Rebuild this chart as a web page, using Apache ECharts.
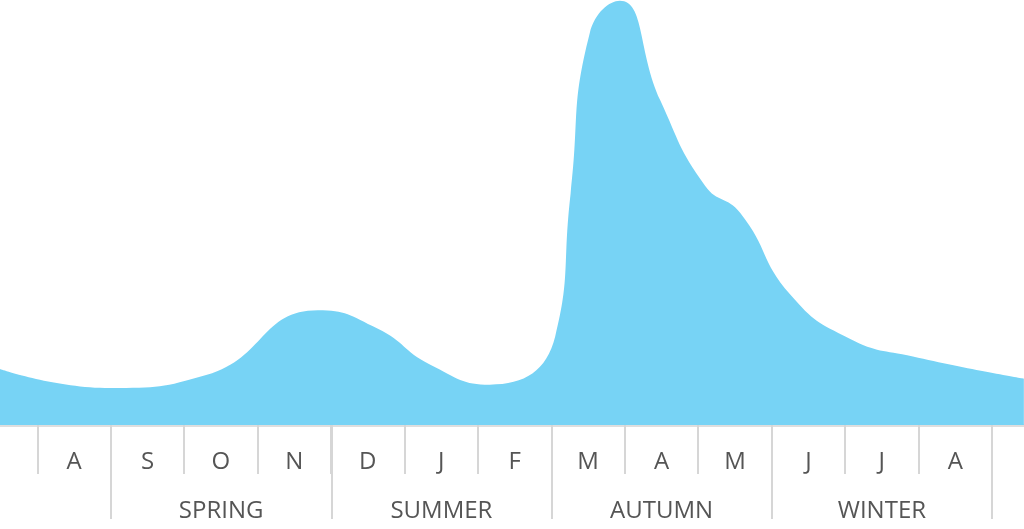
<!DOCTYPE html>
<html>
<head>
<meta charset="utf-8">
<script src="https://cdn.jsdelivr.net/npm/echarts@6/dist/echarts.min.js"></script>
<style>
html,body{margin:0;padding:0;background:#fff;}
#chart{width:1024px;height:529px;}
</style>
</head>
<body>
<div id="chart"></div>
<script>
// Month labels (each sits between two ticks) and season labels
const months = ['A','S','O','N','D','J','F','M','A','M','J','J','A'];
const seasons = ['SPRING','SUMMER','AUTUMN','WINTER'];

// Curve samples: position in months (0 = first tick) and relative value (peak = 100)
const xPos = [-0.51, 0.99, 2.31, 3.82, 4.63, 5.35, 6.16, 7.05, 7.26, 7.52,
              7.93, 8.48, 9.09, 9.57, 10.25, 11.06, 11.92, 13.43];
const values = [13.2, 8.7, 11.8, 27.0, 22.7, 14.2, 9.5, 20.8, 54.5, 92.2,
                99.8, 76.4, 56.3, 49.9, 30.7, 20.3, 16.1, 10.9];

const seriesData = xPos.map((x, i) => [x, values[i]]);

const chart = echarts.init(document.getElementById('chart'), null, {renderer: 'canvas'});
const labelFont = {
  color: '#555555',
  fontFamily: 'Open Sans',
  fontWeight: 'normal',
  fontSize: 24,
  lineHeight: 24
};
const option = {
  animation: false,
  backgroundColor: '#ffffff',
  grid: [
    {left: 0, right: 0, top: 0, bottom: 104},
    {left: 37.3, right: 32, top: 0, bottom: 104},
    {left: 111, right: 32, top: 0, bottom: 104}
  ],
  xAxis: [
    {
      gridIndex: 0, type: 'value', min: -0.508, max: 13.432,
      axisLine: {show: true, lineStyle: {color: '#dedede', width: 3}},
      axisTick: {show: false}, axisLabel: {show: false}, splitLine: {show: false}
    },
    {
      gridIndex: 1, type: 'category', data: months, boundaryGap: true,
      axisLine: {show: false},
      axisTick: {show: true, length: 49, lineStyle: {color: '#d6d6d6', width: 2}},
      axisLabel: Object.assign({margin: 25, interval: 0}, labelFont),
      splitLine: {show: false}
    },
    {
      gridIndex: 2, type: 'category', data: seasons, boundaryGap: true,
      axisLine: {show: false},
      axisTick: {show: true, length: 94, lineStyle: {color: '#d6d6d6', width: 2}},
      axisLabel: Object.assign({margin: 74, interval: 0}, labelFont),
      splitLine: {show: false}
    }
  ],
  yAxis: [
    {gridIndex: 0, type: 'value', min: 0, max: 100, show: false},
    {gridIndex: 1, type: 'value', show: false},
    {gridIndex: 2, type: 'value', show: false}
  ],
  series: [
    {
      type: 'line',
      xAxisIndex: 0, yAxisIndex: 0,
      data: seriesData,
      smooth: 0.5,
      symbol: 'none',
      lineStyle: {width: 0, color: '#77d3f5'},
      areaStyle: {color: '#77d3f5', opacity: 1},
      z: 3
    }
  ]
};
chart.setOption(option);
</script>
</body>
</html>
